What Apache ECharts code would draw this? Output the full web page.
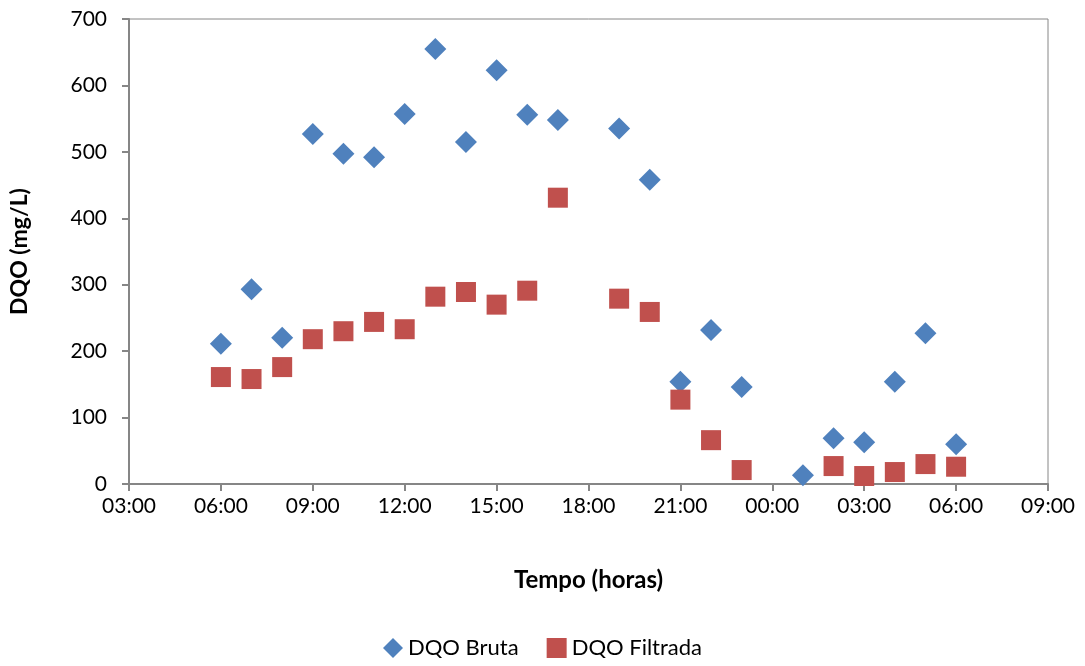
<!DOCTYPE html>
<html><head><meta charset="utf-8">
<script src="https://cdn.jsdelivr.net/npm/echarts@6/dist/echarts.min.js"></script>
<style>html,body{margin:0;padding:0;background:#fff}#c{width:1085px;height:666px}</style>
</head><body><div id="c"></div>
<script>
// Hours since midnight of the first day (values > 24 are the next day)
const hoursBruta = [6,7,8,9,10,11,12,13,14,15,16,17,19,20,21,22,23,25,26,27,28,29,30];
const dqoBruta   = [211,293,220,527,497,492,557,655,515,623,556,548,535,458,154,232,146,13,69,63,154,227,60];
const hoursFiltrada = [6,7,8,9,10,11,12,13,14,15,16,17,19,20,21,22,23,26,27,28,29,30];
const dqoFiltrada   = [161,158,176,218,230,244,233,282,289,270,291,431,279,259,127,66,21,27,12,18,30,26];
const xTickLabels = ['03:00','06:00','09:00','12:00','15:00','18:00','21:00','00:00','03:00','06:00','09:00'];
const yTicks = [0,100,200,300,400,500,600,700];

const font = 'Lato, "Open Sans", sans-serif';
const chart = echarts.init(document.getElementById('c'));
chart.setOption({
  animation: false,
  textStyle: {fontFamily: font},
  grid: {left: 124, right: 37, top: 19, bottom: 182, show: true, borderColor: '#868686', borderWidth: 1},
  legend: {
    bottom: 2, left: 'center', itemGap: 28, itemWidth: 20, itemHeight: 20,
    textStyle: {fontSize: 22, color: '#000', fontFamily: font},
    data: [{name: 'DQO Bruta', icon: 'diamond'}, {name: 'DQO Filtrada', icon: 'rect'}]
  },
  xAxis: {
    type: 'value', min: 3, max: 33, interval: 3,
    name: 'Tempo (horas)', nameLocation: 'middle', nameGap: 84,
    nameTextStyle: {fontSize: 24, fontWeight: 'bold', color: '#000', fontFamily: font},
    axisLine: {show: true, lineStyle: {color: '#868686', width: 2}},
    axisTick: {show: true, length: 7, inside: false, lineStyle: {color: '#868686', width: 2}},
    splitLine: {show: false},
    axisLabel: {fontSize: 21, color: '#000', margin: 12, fontFamily: font,
      formatter: v => xTickLabels[Math.round((v - 3) / 3)]}
  },
  yAxis: {
    type: 'value', min: 0, max: 700, interval: 100,
    name: 'DQO (mg/L)', nameLocation: 'middle', nameGap: 98,
    nameTextStyle: {fontSize: 23, fontWeight: 'bold', color: '#000', fontFamily: font},
    axisLine: {show: true, lineStyle: {color: '#868686', width: 2}},
    axisTick: {show: true, length: 7, lineStyle: {color: '#868686', width: 2}},
    splitLine: {show: false},
    axisLabel: {fontSize: 21, color: '#000', margin: 22, fontFamily: font,
      formatter: v => yTicks.includes(v) ? String(v) : ''}
  },
  series: [
    {name: 'DQO Bruta', type: 'scatter', symbol: 'diamond', symbolSize: 22,
     itemStyle: {color: '#4F81BD', opacity: 1},
     data: hoursBruta.map((h, i) => [h, dqoBruta[i]])},
    {name: 'DQO Filtrada', type: 'scatter', symbol: 'rect', symbolSize: 20,
     itemStyle: {color: '#C0504D', opacity: 1},
     data: hoursFiltrada.map((h, i) => [h, dqoFiltrada[i]])}
  ]
});
</script></body></html>
